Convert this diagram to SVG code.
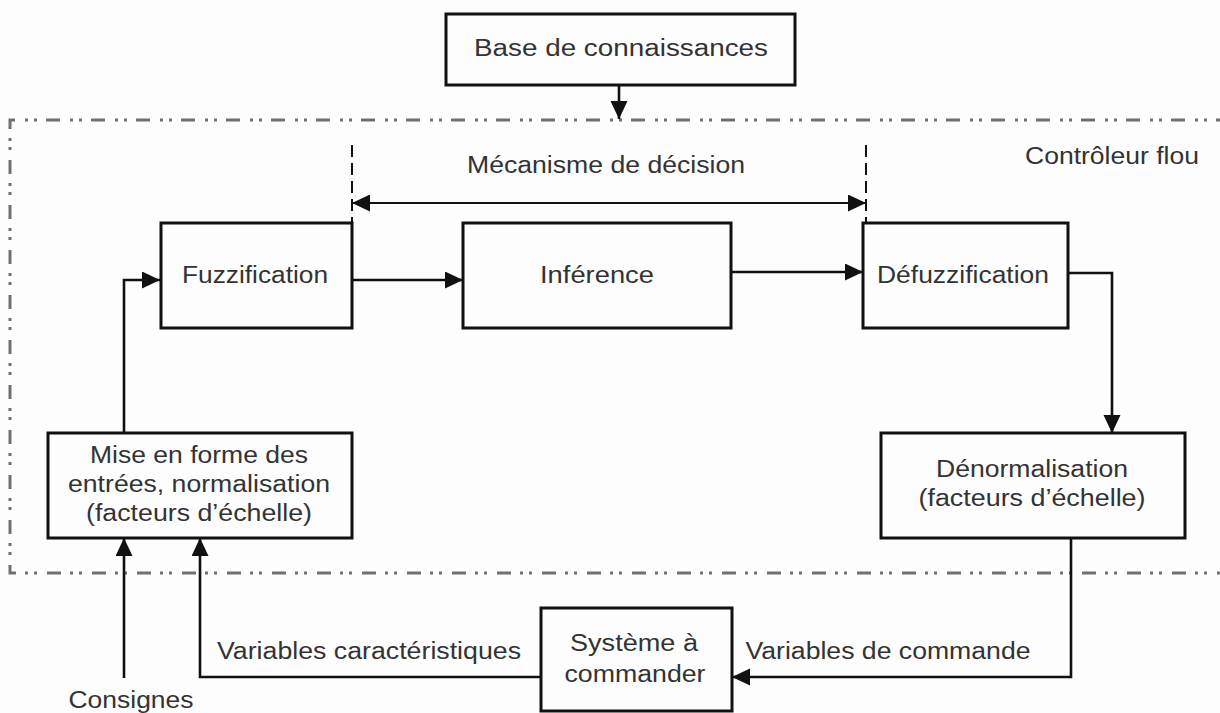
<svg xmlns="http://www.w3.org/2000/svg" width="1220" height="713" viewBox="0 0 1220 713">
<style>
.box{fill:none;stroke:#111;stroke-width:3}
.t{font-family:"Liberation Sans",Arial,sans-serif;font-size:23.5px;fill:#333;text-anchor:middle}
.c{fill:none;stroke:#111;stroke-width:2.6}
.thin{fill:none;stroke:#111;stroke-width:2}
.dash{fill:none;stroke:#111;stroke-width:2;stroke-dasharray:12 6}
.frame{fill:none;stroke:#707070;stroke-width:3;stroke-dasharray:14 9 3 6 3 10}
</style>
<defs>
<marker id="ah" markerUnits="userSpaceOnUse" markerWidth="20" markerHeight="20" refX="18" refY="8.5" orient="auto">
<path d="M0,0 L18,8.5 L0,17 z" fill="#111"/>
</marker>
<marker id="ahs" markerUnits="userSpaceOnUse" markerWidth="20" markerHeight="20" refX="0" refY="8.5" orient="auto">
<path d="M18,0 L0,8.5 L18,17 z" fill="#111"/>
</marker>
</defs>
<rect width="1220" height="713" fill="#fdfdfd"/>
<path class="frame" d="M1230,120 H10 V573 H1230"/>
<g id="connectors">
<path class="c" d="M619,85 V119" marker-end="url(#ah)"/>
<path class="c" d="M352,280 H463" marker-end="url(#ah)"/>
<path class="c" d="M731,272 H863" marker-end="url(#ah)"/>
<path class="c" d="M124,433 V280 H160" marker-end="url(#ah)"/>
<path class="c" d="M1068,273 H1112 V433" marker-end="url(#ah)"/>
<path class="c" d="M1071,538 V677 H732" marker-end="url(#ah)"/>
<path class="c" d="M541,677 H200 V538" marker-end="url(#ah)"/>
<path class="c" d="M124,678 V538" marker-end="url(#ah)"/>
<path class="dash" d="M352,145 V222"/>
<path class="dash" d="M866,145 V224"/>
<path class="thin" d="M352,203 H866" marker-start="url(#ahs)" marker-end="url(#ah)"/>
</g>
<text class="t" x="606" y="173" textLength="278" lengthAdjust="spacingAndGlyphs">Mécanisme de décision</text>
<text class="t" x="1112" y="164" textLength="174" lengthAdjust="spacingAndGlyphs">Contrôleur flou</text>
<text class="t" x="369" y="659" textLength="304" lengthAdjust="spacingAndGlyphs">Variables caractéristiques</text>
<text class="t" x="888" y="659" textLength="285" lengthAdjust="spacingAndGlyphs">Variables de commande</text>
<text class="t" x="131" y="708" textLength="125" lengthAdjust="spacingAndGlyphs">Consignes</text>
<g id="base">
<rect class="box" x="446" y="14" width="349" height="71"/>
<text class="t" x="621" y="56" textLength="294" lengthAdjust="spacingAndGlyphs">Base de connaissances</text>
</g>
<g id="fuzzification">
<rect class="box" x="161" y="223" width="191" height="105"/>
<text class="t" x="255" y="283" textLength="146" lengthAdjust="spacingAndGlyphs">Fuzzification</text>
</g>
<g id="inference">
<rect class="box" x="463" y="223" width="268" height="105"/>
<text class="t" x="597" y="283" textLength="114" lengthAdjust="spacingAndGlyphs">Inférence</text>
</g>
<g id="defuzzification">
<rect class="box" x="863" y="223" width="205" height="105"/>
<text class="t" x="963" y="283" textLength="172" lengthAdjust="spacingAndGlyphs">Défuzzification</text>
</g>
<g id="mise">
<rect class="box" x="48" y="433" width="304" height="105"/>
<text class="t" x="199" y="463" textLength="218" lengthAdjust="spacingAndGlyphs">Mise en forme des</text>
<text class="t" x="199" y="492" textLength="262" lengthAdjust="spacingAndGlyphs">entrées, normalisation</text>
<text class="t" x="199" y="521" textLength="226" lengthAdjust="spacingAndGlyphs">(facteurs d’échelle)</text>
</g>
<g id="denorm">
<rect class="box" x="881" y="433" width="304" height="105"/>
<text class="t" x="1032" y="477" textLength="192" lengthAdjust="spacingAndGlyphs">Dénormalisation</text>
<text class="t" x="1032" y="506" textLength="227" lengthAdjust="spacingAndGlyphs">(facteurs d’échelle)</text>
</g>
<g id="systeme">
<rect class="box" x="541" y="608" width="191" height="103"/>
<text class="t" x="634" y="651" textLength="128" lengthAdjust="spacingAndGlyphs">Système à</text>
<text class="t" x="635" y="682" textLength="141" lengthAdjust="spacingAndGlyphs">commander</text>
</g>
</svg>
